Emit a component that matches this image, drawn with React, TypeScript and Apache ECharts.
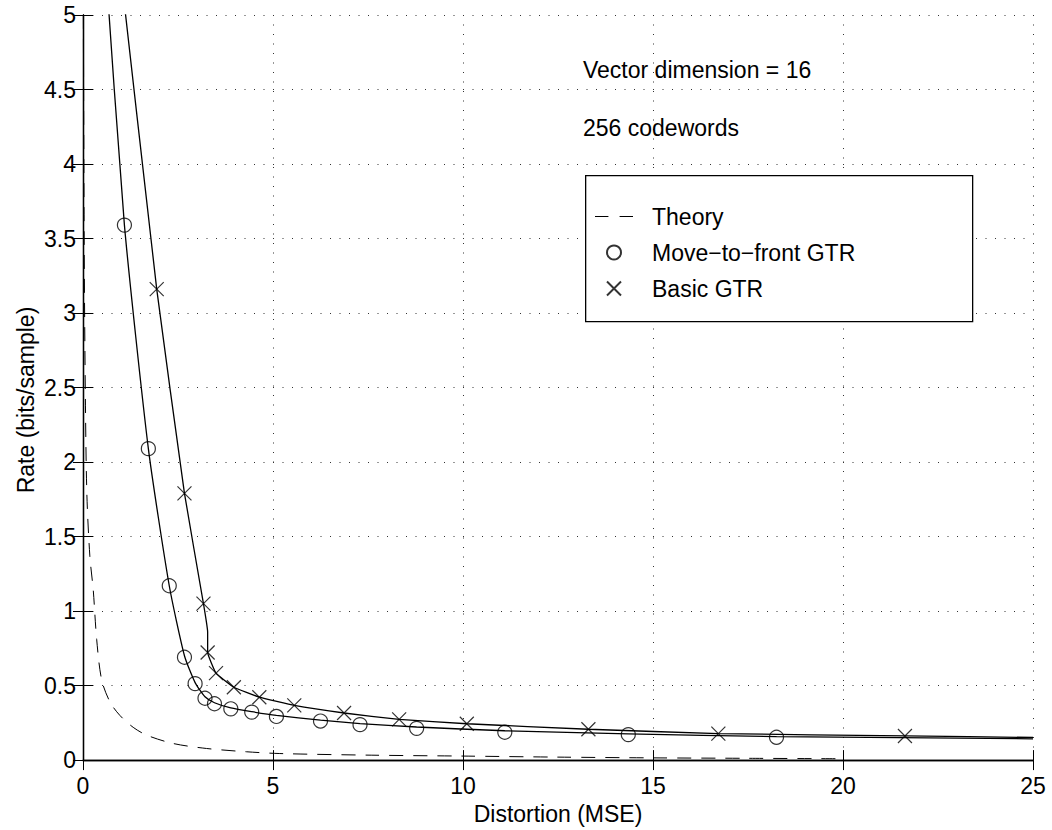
import React, { useEffect, useRef } from "react";
import * as echarts from "echarts";

// Move-to-front GTR measured points
const mtfD = [1.09, 1.72, 2.27, 2.67, 2.95, 3.21, 3.46, 3.89, 4.44, 5.09, 6.25, 7.29, 8.78, 11.1, 14.35, 18.25];
const mtfR = [3.59, 2.09, 1.17, 0.69, 0.513, 0.415, 0.378, 0.344, 0.322, 0.293, 0.262, 0.238, 0.213, 0.187, 0.171, 0.153];

// Basic GTR measured points
const basicD = [1.94, 2.67, 3.17, 3.28, 3.5, 3.97, 4.64, 5.56, 6.87, 8.32, 10.1, 13.3, 16.72, 21.63];
const basicR = [3.16, 1.79, 1.05, 0.722, 0.584, 0.489, 0.422, 0.367, 0.316, 0.273, 0.244, 0.207, 0.178, 0.162];

// Fitted curves
const mtfCurveD = [0.55, 1.09, 1.72, 2.27, 2.67, 2.95, 3.21, 3.46, 3.89, 4.44, 5.09, 6.25, 7.29, 8.78, 11.1, 14.35, 18.25, 25];
const mtfCurveR = [5.5, 3.59, 2.09, 1.17, 0.7, 0.52, 0.425, 0.385, 0.35, 0.325, 0.3, 0.268, 0.245, 0.222, 0.197, 0.176, 0.158, 0.143];

const basicCurveD = [0.9, 1.94, 2.67, 3.17, 3.28, 3.28, 3.5, 3.97, 4.64, 5.56, 6.87, 8.32, 10.1, 13.3, 16.72, 21.63, 25];
const basicCurveR = [5.5, 3.16, 1.79, 1.05, 0.86, 0.722, 0.584, 0.489, 0.422, 0.367, 0.316, 0.273, 0.244, 0.207, 0.178, 0.162, 0.152];

// Theory curve
const theoryD = [0.01, 0.03, 0.06, 0.1, 0.18, 0.27, 0.36, 0.49, 0.71, 0.97, 1.32, 1.68, 2.38, 3.25, 4.3, 5.18, 7.6, 10, 12.5, 15, 17.5, 20];
const theoryR = [5, 3.5, 2.5, 1.8, 1.37, 1.14, 0.81, 0.54, 0.39, 0.3, 0.22, 0.167, 0.111, 0.078, 0.056, 0.044, 0.033, 0.027, 0.02, 0.015, 0.012, 0.009];

const xName = "Distortion (MSE)";
const yName = "Rate (bits/sample)";
const notes = ["Vector dimension = 16", "256 codewords"];
const legendNames = ["Theory", "Move\u2212to\u2212front GTR", "Basic GTR"];

const FONT = "Liberation Sans, Arial, Helvetica, sans-serif";
const FS = 23;

const zip = (a: number[], b: number[]) => a.map((v, i) => [v, b[i]]);

export default function App() {
  const ref = useRef<HTMLDivElement>(null);
  useEffect(() => {
    document.body.style.margin = "0";
    const chart = echarts.init(ref.current!, null, { renderer: "svg" });
    const tickStyle = { show: true, inside: true, length: 10, lineStyle: { color: "#000", width: 1 } };
    const axisLine = { show: true, lineStyle: { color: "#000", width: 1.3 } };
    const split = { show: true, lineStyle: { color: "#333", type: [1, 8.5] as any, width: 1 } };
    const crossPath = "path://M0,0L10,10M10,0L0,10";
    const dashIcon = "path://M0,0H12V1H0ZM22,0H34V1H22Z";
    chart.setOption({
      animation: false,
      backgroundColor: "#fff",
      grid: { left: 83, right: 19, top: 15, bottom: 65, containLabel: false },
      xAxis: [
        {
          type: "value", min: 0, max: 25, interval: 5, position: "bottom",
          axisLine, axisTick: tickStyle, splitLine: split,
          axisLabel: { fontFamily: FONT, fontSize: FS, color: "#000", margin: 14 },
          name: xName, nameLocation: "middle", nameGap: 41,
          nameTextStyle: { fontFamily: FONT, fontSize: FS, color: "#000" },
        },
        {
          type: "value", min: 0, max: 25, interval: 5, position: "top",
          axisLine, axisTick: tickStyle, splitLine: { show: false }, axisLabel: { show: false },
        },
      ],
      yAxis: [
        {
          type: "value", min: 0, max: 5, interval: 0.5, position: "left",
          axisLine, axisTick: tickStyle, splitLine: split,
          axisLabel: { fontFamily: FONT, fontSize: FS, color: "#000", margin: 7, padding: [6, 0, 0, 0] },
        },
        {
          type: "value", min: 0, max: 5, interval: 0.5, position: "right",
          axisLine, axisTick: tickStyle, splitLine: { show: false }, axisLabel: { show: false },
        },
      ],
      legend: {
        data: [
          { name: legendNames[0], icon: dashIcon },
          { name: legendNames[1] },
          { name: legendNames[2] },
        ],
        orient: "vertical",
        left: 595,
        top: 205,
        itemWidth: 38,
        itemHeight: 14,
        itemGap: 13,
        padding: 0,
        textStyle: { fontFamily: FONT, fontSize: FS, color: "#000", lineHeight: 23, padding: [0, 0, 0, 14] },
      },
      graphic: [
        {
          type: "rect", left: 585, top: 175, z: 1,
          shape: { width: 387, height: 146 },
          style: { fill: "#fff", stroke: "#000", lineWidth: 1.3 },
        },
        {
          type: "text", x: 583, y: 69.5, z: 5,
          style: { text: notes[0], font: `${FS}px ${FONT}`, fill: "#000", textAlign: "left", textVerticalAlign: "middle" },
        },
        {
          type: "text", x: 583, y: 128, z: 5,
          style: { text: notes[1], font: `${FS}px ${FONT}`, fill: "#000", textAlign: "left", textVerticalAlign: "middle" },
        },
        {
          type: "text", x: 26, y: 400, rotation: Math.PI / 2, z: 5,
          style: { text: yName, font: `${FS}px ${FONT}`, fill: "#000", textAlign: "center", textVerticalAlign: "middle" },
        },
      ],
      series: [
        {
          name: legendNames[0], type: "line", data: zip(theoryD, theoryR),
          symbol: "none", smooth: 0.3,
          lineStyle: { color: "#000", width: 1, type: [14, 10] },
          itemStyle: { color: "#000" },
        },
        {
          name: "mtfCurve", type: "line", data: zip(mtfCurveD, mtfCurveR),
          symbol: "none", smooth: 0.2,
          lineStyle: { color: "#000", width: 1.3 },
        },
        {
          name: "basicCurve", type: "line", data: zip(basicCurveD, basicCurveR),
          symbol: "none", smooth: 0.1,
          lineStyle: { color: "#000", width: 1.3 },
        },
        {
          name: legendNames[1], type: "scatter", data: zip(mtfD, mtfR),
          symbol: "circle", symbolSize: 14,
          itemStyle: { color: "transparent", borderColor: "#000", borderWidth: 1.2 },
          z: 4,
        },
        {
          name: legendNames[2], type: "scatter", data: zip(basicD, basicR),
          symbol: crossPath, symbolSize: 14,
          itemStyle: { color: "transparent", borderColor: "#000", borderWidth: 1.2 },
          z: 4,
        },
      ],
    });
    return () => chart.dispose();
  }, []);
  return <div ref={ref} style={{ width: 1052, height: 830 }} />;
}
